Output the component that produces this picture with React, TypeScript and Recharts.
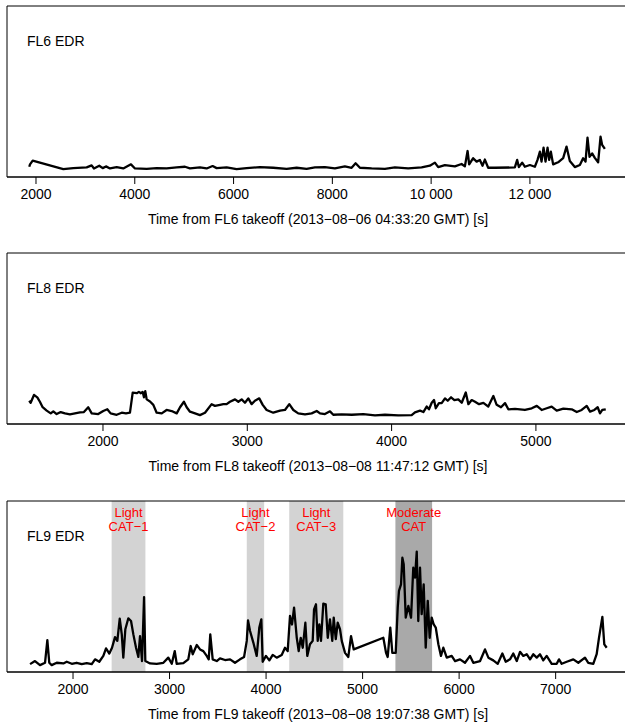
import React from "react";
import { LineChart, Line, XAxis, YAxis, ReferenceArea } from "recharts";

// time from takeoff [s], EDR value (no y axis shown)
const FL6_EDR: [number, number][] = [
  [1864, 0.03], [1879, 0.037], [1933, 0.048], [2553, 0.023], [2755, 0.026], [3026, 0.028],
  [3127, 0.034], [3174, 0.025], [3281, 0.033], [3350, 0.026], [3417, 0.031], [3498, 0.025],
  [3633, 0.029], [3767, 0.025], [3923, 0.037], [4004, 0.025], [4241, 0.024], [4443, 0.026],
  [4645, 0.025], [4848, 0.028], [5016, 0.03], [5117, 0.025], [5319, 0.028], [5455, 0.025],
  [5576, 0.032], [5657, 0.026], [5860, 0.028], [6062, 0.023], [6265, 0.026], [6534, 0.029],
  [6803, 0.027], [7074, 0.024], [7277, 0.027], [7479, 0.024], [7647, 0.028], [7849, 0.029],
  [8052, 0.025], [8254, 0.031], [8390, 0.027], [8471, 0.04], [8558, 0.027], [8795, 0.025],
  [9064, 0.024], [9266, 0.028], [9535, 0.025], [9807, 0.028], [9975, 0.033], [10076, 0.042],
  [10143, 0.029], [10278, 0.035], [10481, 0.031], [10616, 0.038], [10683, 0.031], [10738, 0.076],
  [10770, 0.037], [10851, 0.055], [10920, 0.045], [10987, 0.05], [11041, 0.033], [11088, 0.051],
  [11155, 0.027], [11290, 0.027], [11695, 0.028], [11742, 0.05], [11776, 0.029], [11843, 0.042],
  [11897, 0.03], [11999, 0.035], [12100, 0.03], [12154, 0.05], [12201, 0.074], [12235, 0.045],
  [12276, 0.086], [12316, 0.045], [12357, 0.086], [12389, 0.05], [12424, 0.074], [12470, 0.037],
  [12571, 0.043], [12673, 0.055], [12741, 0.089], [12808, 0.047], [12909, 0.029], [13011, 0.035],
  [13077, 0.055], [13126, 0.045], [13166, 0.115], [13207, 0.059], [13260, 0.069], [13314, 0.056],
  [13381, 0.043], [13430, 0.118], [13462, 0.094], [13517, 0.082],
];

const FL8_EDR: [number, number][] = [
  [1489, 0.068], [1499, 0.062], [1522, 0.085], [1545, 0.078], [1563, 0.065], [1582, 0.049],
  [1610, 0.039], [1638, 0.031], [1656, 0.037], [1679, 0.029], [1707, 0.035], [1737, 0.031],
  [1771, 0.028], [1806, 0.031], [1841, 0.034], [1868, 0.035], [1898, 0.049], [1922, 0.031],
  [1967, 0.029], [2002, 0.038], [2030, 0.043], [2053, 0.031], [2095, 0.027], [2130, 0.033],
  [2159, 0.031], [2187, 0.033], [2206, 0.092], [2234, 0.09], [2249, 0.094], [2263, 0.09],
  [2275, 0.094], [2284, 0.078], [2293, 0.096], [2303, 0.072], [2326, 0.066], [2349, 0.056],
  [2372, 0.033], [2407, 0.031], [2441, 0.041], [2476, 0.038], [2511, 0.031], [2534, 0.049],
  [2561, 0.065], [2580, 0.049], [2603, 0.036], [2638, 0.031], [2672, 0.026], [2707, 0.033],
  [2753, 0.058], [2776, 0.053], [2811, 0.056], [2834, 0.058], [2857, 0.058], [2880, 0.065],
  [2915, 0.072], [2938, 0.065], [2961, 0.072], [2984, 0.062], [3007, 0.075], [3030, 0.058],
  [3053, 0.068], [3083, 0.075], [3107, 0.056], [3134, 0.041], [3180, 0.033], [3227, 0.039],
  [3261, 0.041], [3291, 0.058], [3319, 0.041], [3353, 0.031], [3400, 0.028], [3446, 0.031],
  [3481, 0.038], [3504, 0.031], [3538, 0.029], [3573, 0.037], [3596, 0.027], [3654, 0.028],
  [3724, 0.027], [3804, 0.029], [3885, 0.025], [3954, 0.027], [4046, 0.025], [4139, 0.026],
  [4162, 0.034], [4197, 0.039], [4220, 0.035], [4243, 0.051], [4259, 0.043], [4278, 0.062],
  [4294, 0.07], [4306, 0.046], [4328, 0.061], [4347, 0.061], [4370, 0.075], [4389, 0.068],
  [4412, 0.078], [4435, 0.07], [4462, 0.072], [4486, 0.062], [4514, 0.092], [4532, 0.058],
  [4555, 0.07], [4578, 0.065], [4606, 0.058], [4636, 0.062], [4670, 0.051], [4705, 0.082],
  [4728, 0.056], [4758, 0.049], [4786, 0.061], [4809, 0.043], [4855, 0.044], [4924, 0.041],
  [4971, 0.046], [5006, 0.053], [5040, 0.041], [5075, 0.046], [5109, 0.051], [5144, 0.039],
  [5190, 0.045], [5248, 0.043], [5283, 0.035], [5317, 0.041], [5352, 0.053], [5375, 0.036],
  [5405, 0.041], [5428, 0.049], [5444, 0.031], [5460, 0.041], [5484, 0.043],
];

const FL9_EDR: [number, number][] = [
  [1555, 0.023], [1606, 0.032], [1658, 0.02], [1710, 0.027], [1734, 0.093], [1754, 0.027],
  [1779, 0.02], [1831, 0.027], [1900, 0.025], [1935, 0.03], [1987, 0.024], [2038, 0.027],
  [2090, 0.023], [2142, 0.026], [2194, 0.023], [2228, 0.037], [2272, 0.03], [2314, 0.047],
  [2342, 0.069], [2376, 0.054], [2404, 0.071], [2435, 0.102], [2459, 0.091], [2484, 0.156],
  [2505, 0.11], [2521, 0.042], [2542, 0.125], [2573, 0.157], [2601, 0.149], [2625, 0.11],
  [2653, 0.071], [2677, 0.044], [2694, 0.105], [2715, 0.032], [2736, 0.219], [2749, 0.032],
  [2798, 0.025], [2867, 0.024], [2936, 0.027], [2987, 0.042], [3023, 0.024], [3054, 0.061],
  [3074, 0.024], [3143, 0.026], [3194, 0.037], [3219, 0.076], [3240, 0.052], [3282, 0.079],
  [3316, 0.066], [3350, 0.061], [3385, 0.047], [3406, 0.037], [3422, 0.11], [3447, 0.037],
  [3489, 0.032], [3523, 0.04], [3575, 0.035], [3627, 0.037], [3678, 0.027], [3730, 0.037],
  [3772, 0.044], [3800, 0.091], [3813, 0.151], [3834, 0.12], [3868, 0.086], [3903, 0.047],
  [3930, 0.13], [3951, 0.154], [3965, 0.03], [3999, 0.047], [4034, 0.034], [4069, 0.05],
  [4110, 0.042], [4162, 0.05], [4196, 0.071], [4224, 0.061], [4248, 0.164], [4269, 0.139],
  [4290, 0.188], [4318, 0.1], [4338, 0.061], [4359, 0.1], [4380, 0.071], [4407, 0.144],
  [4427, 0.047], [4455, 0.081], [4483, 0.091], [4497, 0.183], [4517, 0.198], [4535, 0.091],
  [4552, 0.139], [4569, 0.091], [4593, 0.2], [4618, 0.198], [4639, 0.1], [4662, 0.154],
  [4686, 0.091], [4701, 0.159], [4722, 0.096], [4742, 0.144], [4766, 0.125], [4784, 0.091],
  [4818, 0.056], [4852, 0.044], [4880, 0.105], [4908, 0.066], [5215, 0.1], [5243, 0.056],
  [5260, 0.044], [5287, 0.13], [5308, 0.056], [5343, 0.056], [5364, 0.188], [5377, 0.237],
  [5398, 0.256], [5412, 0.334], [5426, 0.315], [5447, 0.159], [5474, 0.193], [5502, 0.159],
  [5525, 0.305], [5543, 0.276], [5561, 0.352], [5577, 0.149], [5595, 0.305], [5612, 0.169],
  [5633, 0.256], [5654, 0.071], [5675, 0.208], [5695, 0.1], [5716, 0.159], [5737, 0.139],
  [5758, 0.13], [5785, 0.081], [5812, 0.047], [5836, 0.071], [5872, 0.042], [5923, 0.047],
  [5958, 0.032], [6009, 0.037], [6061, 0.027], [6113, 0.047], [6147, 0.027], [6217, 0.032],
  [6268, 0.066], [6303, 0.042], [6354, 0.034], [6400, 0.024], [6448, 0.054], [6483, 0.03],
  [6527, 0.037], [6561, 0.054], [6597, 0.032], [6631, 0.059], [6665, 0.047], [6700, 0.052],
  [6735, 0.037], [6769, 0.052], [6804, 0.042], [6838, 0.052], [6872, 0.034], [6907, 0.047],
  [6959, 0.024], [7011, 0.024], [7035, 0.037], [7063, 0.024], [7115, 0.03], [7183, 0.037],
  [7235, 0.027], [7304, 0.042], [7338, 0.027], [7390, 0.024], [7425, 0.052], [7449, 0.1],
  [7484, 0.161], [7504, 0.081], [7529, 0.071],
];

const FL6_TICKS = [2000, 4000, 6000, 8000, 10000, 12000];
const FL8_TICKS = [2000, 3000, 4000, 5000];
const FL9_TICKS = [2000, 3000, 4000, 5000, 6000, 7000];

const FL6_RANGE: [number, number] = [1413, 14006];
const FL8_RANGE: [number, number] = [1335, 5645];
const FL9_RANGE: [number, number] = [1316, 7760];

// turbulence encounters flagged on FL9
const CAT_START = [2400, 3800, 4240, 5340];
const CAT_END = [2750, 3980, 4800, 5720];
const CAT_LINE1 = ["Light", "Light", "Light", "Moderate"];
const CAT_LINE2 = ["CAT−1", "CAT−2", "CAT−3", "CAT"];
const CAT_MODERATE = [false, false, false, true];

const FONT = "'Liberation Sans', Arial, Helvetica, sans-serif";
const Y_MAX = 0.5;

const fmtTick = (v: number) =>
  v >= 10000 ? `${Math.floor(v / 1000)} ${String(v % 1000).padStart(3, "0")}` : String(v);

type Band = { x1: number; x2: number; l1: string; l2: string; moderate: boolean };

function Panel({
  top, series, range, ticks, name, xLabel, bands = [],
}: {
  top: number; series: [number, number][]; range: [number, number]; ticks: number[];
  name: string; xLabel: string; bands?: Band[];
}) {
  const data = series.map(([t, edr]) => ({ t, edr }));
  return (
    <div style={{ position: "absolute", left: 0, top }}>
      <LineChart width={640} height={232} data={data} margin={{ top: 6, right: 11, bottom: 0, left: 7 }}>
        <XAxis
          dataKey="t"
          type="number"
          domain={range}
          allowDataOverflow
          ticks={ticks}
          tickFormatter={fmtTick}
          tickSize={7}
          tickMargin={5}
          height={55}
          stroke="#000"
          tick={{ fill: "#000", fontSize: 14, fontFamily: FONT }}
          label={{ value: xLabel, position: "insideBottom", offset: 8, fill: "#000", fontSize: 14, fontFamily: FONT }}
        />
        <YAxis hide domain={[0, Y_MAX]} allowDataOverflow />
        {bands.map((b, i) => (
          <ReferenceArea
            key={i}
            x1={b.x1}
            x2={b.x2}
            y1={0}
            y2={Y_MAX}
            fill={b.moderate ? "#A9A9A9" : "#D3D3D3"}
            fillOpacity={1}
            stroke="none"
            label={{
              content: (p: any) => {
                const vb = p.viewBox;
                const cx = vb.x + vb.width / 2;
                return (
                  <text textAnchor="middle" fill="#FF0000" fontSize={13} fontFamily={FONT}>
                    <tspan x={cx} y={vb.y + 16}>{b.l1}</tspan>
                    <tspan x={cx} y={vb.y + 30}>{b.l2}</tspan>
                  </text>
                );
              },
            }}
          />
        ))}
        <ReferenceArea
          x1={range[0]}
          x2={range[1]}
          y1={0}
          y2={Y_MAX}
          fill="none"
          stroke="#000"
          strokeWidth={1}
          label={{
            content: (p: any) => (
              <text x={p.viewBox.x + 20} y={p.viewBox.y + 40} fill="#000" fontSize={14} fontFamily={FONT}>
                {name}
              </text>
            ),
          }}
        />
        <Line
          type="linear"
          dataKey="edr"
          stroke="#000"
          strokeWidth={2.3}
          strokeLinejoin="round"
          dot={false}
          activeDot={false}
          isAnimationActive={false}
        />
      </LineChart>
    </div>
  );
}

export default function App() {
  const fl9Bands: Band[] = CAT_START.map((s, i) => ({
    x1: s, x2: CAT_END[i], l1: CAT_LINE1[i], l2: CAT_LINE2[i], moderate: CAT_MODERATE[i],
  }));
  return (
    <div style={{ position: "absolute", left: 0, top: 0, width: 625, height: 723, overflow: "hidden", background: "#fff" }}>
      <Panel top={0} series={FL6_EDR} range={FL6_RANGE} ticks={FL6_TICKS} name="FL6 EDR"
        xLabel={"Time from FL6 takeoff (2013−08−06 04:33:20 GMT) [s]"} />
      <Panel top={247} series={FL8_EDR} range={FL8_RANGE} ticks={FL8_TICKS} name="FL8 EDR"
        xLabel={"Time from FL8 takeoff (2013−08−08 11:47:12 GMT) [s]"} />
      <Panel top={495} series={FL9_EDR} range={FL9_RANGE} ticks={FL9_TICKS} name="FL9 EDR"
        xLabel={"Time from FL9 takeoff (2013−08−08 19:07:38 GMT) [s]"} bands={fl9Bands} />
    </div>
  );
}
